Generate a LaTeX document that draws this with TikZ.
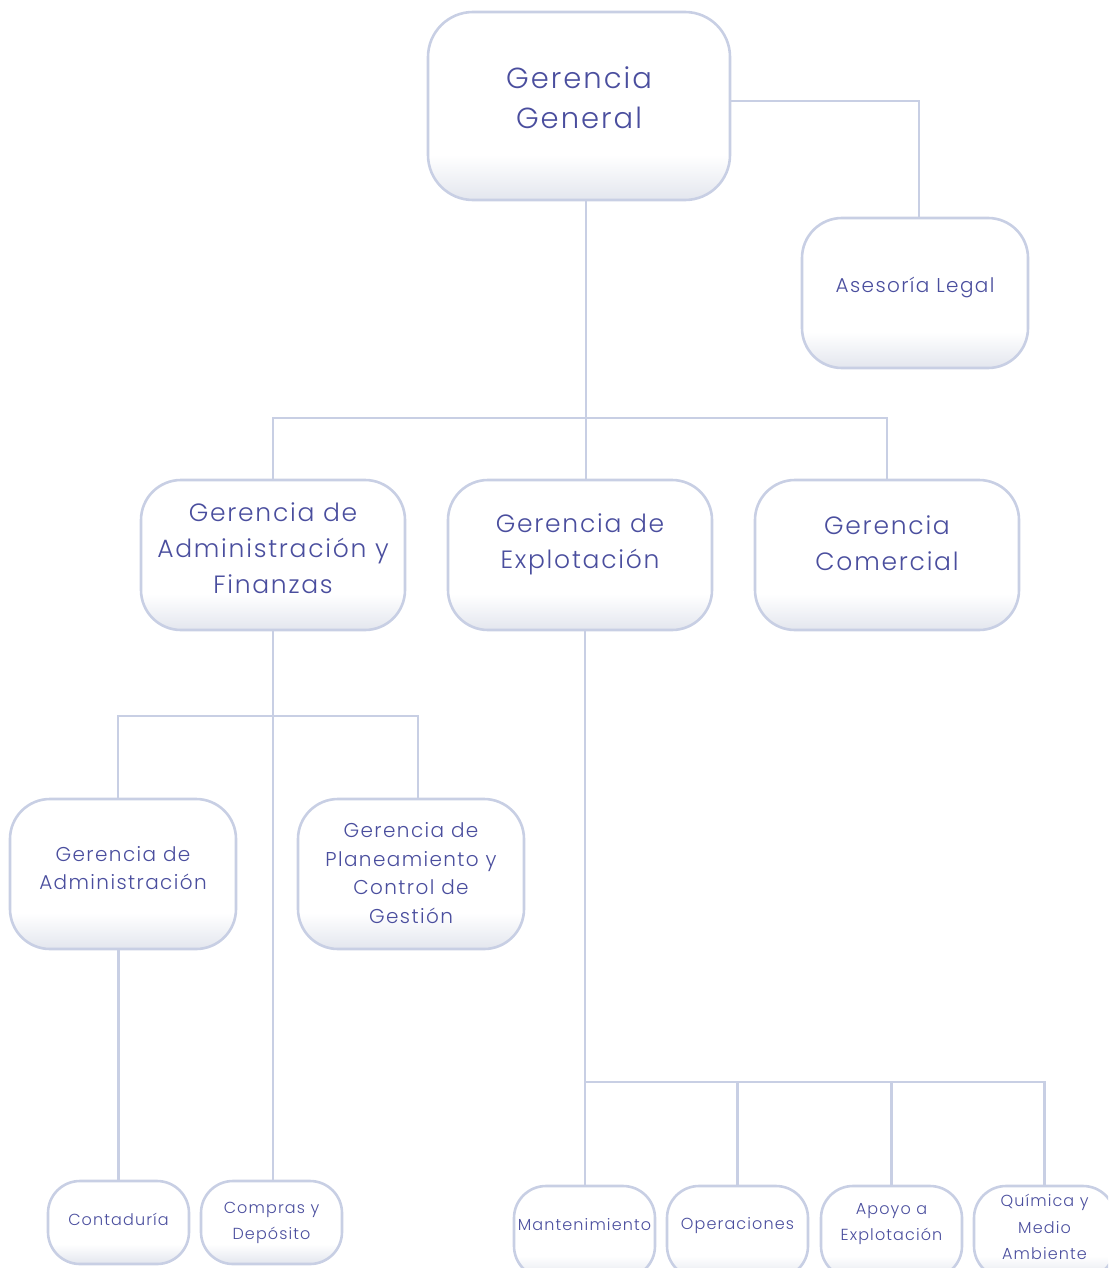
\documentclass[tikz,border=0pt]{standalone}
\usepackage{fontspec}
\setmainfont{Poppins}[UprightFont=* Light, LetterSpace=7]
\usetikzlibrary{calc}
\definecolor{linec}{HTML}{C8CFE4}
\definecolor{txtc}{HTML}{4A4E9E}
\definecolor{shadeb}{HTML}{E3E6EE}
\pgfdeclareverticalshading{boxshade}{100bp}{color(0bp)=(shadeb); color(25bp)=(shadeb); color(37bp)=(white); color(100bp)=(white)}
\tikzset{
  box/.style={draw=linec, line width=2.6pt, shading=boxshade, rounded corners=#1, inner sep=0pt},
  box/.default=42pt,
  conn/.style={draw=linec, line width=2.6pt},
  lbl/.style={text=txtc, align=center, inner sep=0pt},
  big/.style={lbl, font=\fontsize{29}{40}\selectfont},
  mid/.style={lbl, font=\fontsize{25}{36}\selectfont},
  sml/.style={lbl, font=\fontsize{20}{28.5}\selectfont},
  tin/.style={lbl, font=\fontsize{16}{26.5}\selectfont},
}
\begin{document}
\begin{tikzpicture}[x=1pt,y=-1pt]
\useasboundingbox (0,0) rectangle (1108,1268);
\clip (0,0) rectangle (1108,1268);
% junctions
\coordinate (j1) at (586,418);
\coordinate (j2) at (919,101);
\coordinate (j3) at (273,716);
\coordinate (j4) at (585,1082);
% boxes
\node[box=45pt, minimum width=302pt, minimum height=188pt] (gg) at (579,106) {};
\node[box=40pt, minimum width=226pt, minimum height=150pt] (al) at (915,293) {};
\node[box=40pt, minimum width=264pt, minimum height=150pt] (af) at (273,555) {};
\node[box=40pt, minimum width=264pt, minimum height=150pt] (ex) at (580,555) {};
\node[box=40pt, minimum width=264pt, minimum height=150pt] (co) at (887,555) {};
\node[box=40pt, minimum width=226pt, minimum height=150pt] (ga) at (123,874) {};
\node[box=40pt, minimum width=226pt, minimum height=150pt] (pl) at (411,874) {};
\node[box=32pt, minimum width=141pt, minimum height=83pt] (cn) at (118.5,1222.5) {};
\node[box=32pt, minimum width=141pt, minimum height=83pt] (cp) at (271.5,1222.5) {};
\node[box=32pt, minimum width=141pt, minimum height=92pt] (mt) at (584.5,1232) {};
\node[box=32pt, minimum width=141pt, minimum height=92pt] (op) at (737.5,1232) {};
\node[box=32pt, minimum width=141pt, minimum height=92pt] (ap) at (891.5,1232) {};
\node[box=32pt, minimum width=141pt, minimum height=92pt] (qm) at (1044.5,1232) {};
% lines
\draw[conn] (gg.south -| j1) -- (j1);
\draw[conn] (gg.east |- j2) -- (j2) -- (j2 |- al.north);
\draw[conn] (af.north) |- (j1) -| (co.north);
\draw[conn] (j1) -- (j1 |- ex.north);
\draw[conn] (af.south) -- (af.south |- cp.north);
\draw[conn] (ga.north -| 118,0) |- (j3) -| (418,0 |- pl.north);
\draw[conn] (ga.south -| cn.north) -- (cn.north);
\draw[conn] (ex.south -| j4) -- (j4) -| (qm.north);
\draw[conn] (op.north) -- (op.north |- j4);
\draw[conn] (ap.north) -- (ap.north |- j4);
\draw[conn] (mt.north -| j4) -- (j4);
% labels
\node[big] (ggt) at (579,98) {Gerencia\\General};
\node[sml] (alt) at (915,287) {Asesoría Legal};
\node[mid] (aft) at (273,548) {Gerencia de\\Administración y\\Finanzas};
\node[mid] (ext) at (580,544) {Gerencia de\\Explotación};
\node[mid] (cot) at (887,543) {Gerencia\\Comercial};
\node[sml] (gat) at (123,868) {Gerencia de\\Administración};
\node[sml] (plt) at (411,873) {Gerencia de\\Planeamiento y\\Control de\\Gestión};
\node[tin] (cnt) at (118.5,1219) {Contaduría};
\node[tin] (cpt) at (271.5,1223) {Compras y\\Depósito};
\node[tin] (mtt) at (584.5,1225) {Mantenimiento};
\node[tin] (opt) at (737.5,1226) {Operaciones};
\node[tin] (apt) at (891.5,1224) {Apoyo a\\Explotación};
\node[tin] (qmt) at (1044.5,1227) {Química y\\Medio\\Ambiente};
\end{tikzpicture}
\end{document}
